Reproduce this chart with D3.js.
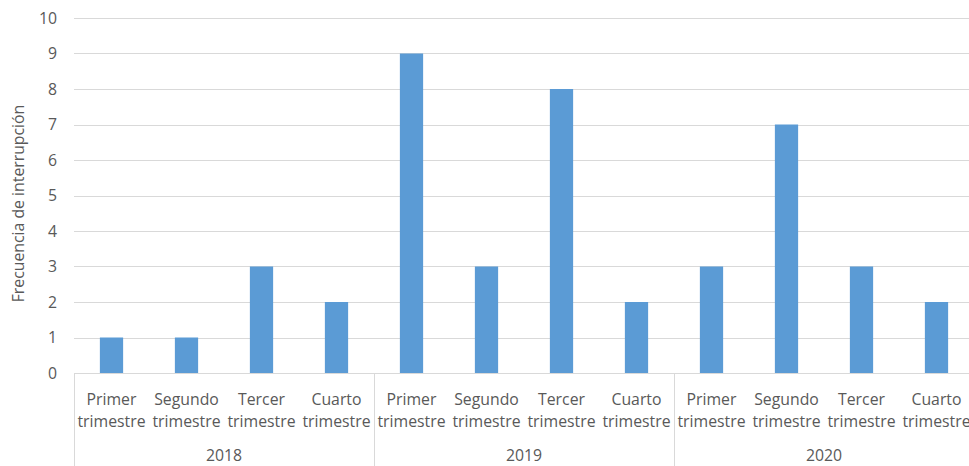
<!DOCTYPE html>
<html>
<head>
<meta charset="utf-8">
<script src="https://cdn.jsdelivr.net/npm/d3@7"></script>
<style>
  html, body { margin: 0; padding: 0; background: #fff; }
  svg { display: block; }
  text { font-family: "Open Sans", "Liberation Sans", sans-serif; fill: #595959; }
</style>
</head>
<body>
<svg id="chart" width="969" height="466"></svg>
<script>
// Interruption counts per quarter, grouped by year
const years = ["2018", "2019", "2020"];
const quarters = ["Primer trimestre", "Segundo trimestre", "Tercer trimestre", "Cuarto trimestre"];
const values2018 = [1, 1, 3, 2];
const values2019 = [9, 3, 8, 2];
const values2020 = [3, 7, 3, 2];
const yTicks = [0, 1, 2, 3, 4, 5, 6, 7, 8, 9, 10];
const yTitle = "Frecuencia de interrupción";

const seriesByYear = [values2018, values2019, values2020];
const rows = [];
years.forEach((yr, i) => {
  quarters.forEach((q, j) => {
    rows.push({ key: yr + "|" + j, year: yr, quarter: q, value: seriesByYear[i][j] });
  });
});

const svg = d3.select("#chart");
const margin = { left: 74, top: 18, bottom: 93 };
const plotW = 900;
const plotH = 466 - margin.top - margin.bottom;
const fontSize = "15.8px";

const x = d3.scaleBand()
  .domain(rows.map(d => d.key))
  .range([margin.left, margin.left + plotW])
  .paddingInner(0.69)
  .paddingOuter(0.345);

const y = d3.scaleLinear().domain([0, 10]).range([margin.top + plotH, margin.top]);

// Horizontal gridlines
svg.append("g")
  .selectAll("line")
  .data(yTicks)
  .join("line")
  .attr("x1", margin.left)
  .attr("x2", margin.left + plotW)
  .attr("y1", d => Math.round(y(d)) + 0.5)
  .attr("y2", d => Math.round(y(d)) + 0.5)
  .attr("stroke", "#d9d9d9")
  .attr("stroke-width", 1);

// Y axis tick labels
const yAxis = d3.axisLeft(y).tickValues(yTicks).tickSize(0).tickPadding(17).tickFormat(d3.format("d"));
const gy = svg.append("g").attr("transform", `translate(${margin.left},0)`).call(yAxis);
gy.select(".domain").remove();
gy.selectAll("text").style("font-size", fontSize).attr("fill", "#595959");

// Bars
svg.append("g")
  .selectAll("rect")
  .data(rows)
  .join("rect")
  .attr("x", d => x(d.key))
  .attr("width", x.bandwidth())
  .attr("y", d => y(d.value))
  .attr("height", d => y(0) - y(d.value))
  .attr("fill", "#5b9bd5");

// Category axis: quarter labels and year groups
const groupW = plotW / years.length;
const baseY = y(0);

// Group separators
svg.append("g")
  .selectAll("line")
  .data(d3.range(years.length + 1))
  .join("line")
  .attr("x1", i => Math.round(margin.left + i * groupW) + 0.5)
  .attr("x2", i => Math.round(margin.left + i * groupW) + 0.5)
  .attr("y1", baseY)
  .attr("y2", 466)
  .attr("stroke", "#d9d9d9");

const qLabels = svg.append("g")
  .selectAll("text")
  .data(rows)
  .join("text")
  .attr("text-anchor", "middle")
  .style("font-size", fontSize);
qLabels.each(function (d) {
  const cx = x(d.key) + x.bandwidth() / 2;
  const parts = d.quarter.split(" ");
  const t = d3.select(this);
  t.append("tspan").attr("x", cx).attr("y", baseY + 32).text(parts[0]);
  t.append("tspan").attr("x", cx).attr("y", baseY + 54).text(parts[1]);
});

svg.append("g")
  .selectAll("text")
  .data(years)
  .join("text")
  .attr("text-anchor", "middle")
  .attr("x", (d, i) => margin.left + (i + 0.5) * groupW)
  .attr("y", baseY + 88)
  .style("font-size", fontSize)
  .text(d => d);

// Y axis title
svg.append("text")
  .attr("transform", `translate(24, ${margin.top + plotH / 2 + 8}) rotate(-90)`)
  .attr("text-anchor", "middle")
  .style("font-size", fontSize)
  .text(yTitle);
</script>
</body>
</html>
